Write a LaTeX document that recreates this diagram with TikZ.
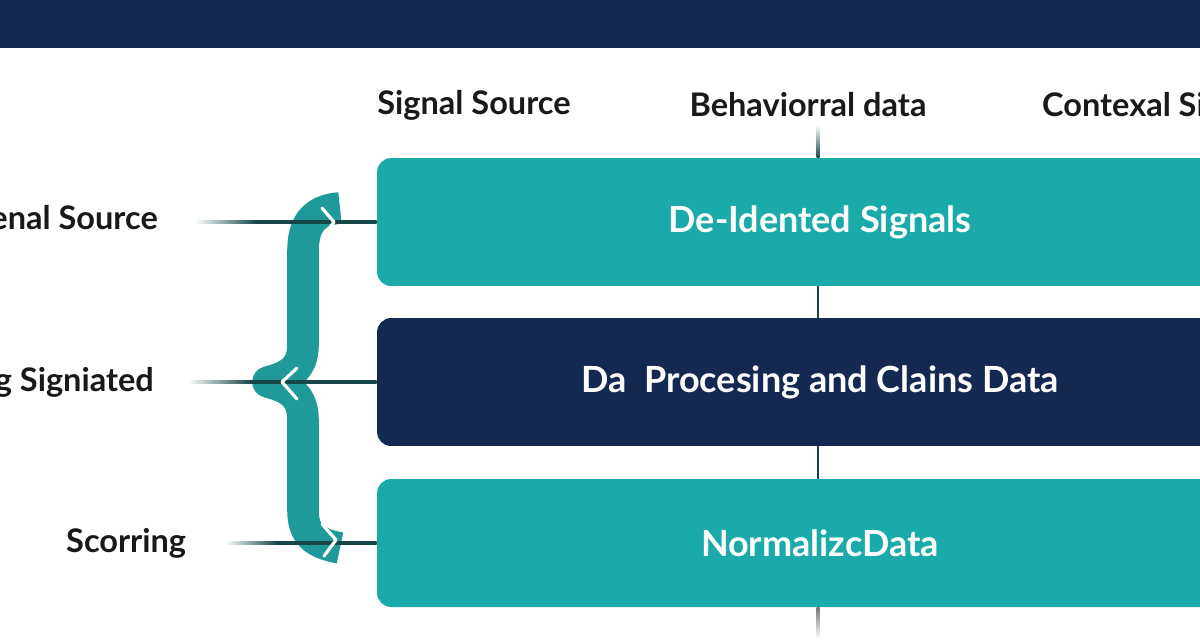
\documentclass[tikz,border=0pt]{standalone}
\usepackage{fontspec}
\setmainfont{Lato}
\usetikzlibrary{calc}
\definecolor{navy}{RGB}{19,41,82}
\definecolor{tealbox}{RGB}{27,170,170}
\definecolor{tealbrace}{RGB}{31,153,153}
\definecolor{linedark}{RGB}{22,70,72}
\definecolor{spinegray}{RGB}{120,120,120}
\pgfdeclarehorizontalshading{feedfade}{100bp}{color(0bp)=(white); color(25bp)=(white); color(42bp)=(linedark); color(100bp)=(linedark)}
\pgfdeclareverticalshading{topfade}{100bp}{color(0bp)=(linedark); color(25bp)=(linedark); color(75bp)=(white); color(100bp)=(white)}
\pgfdeclareverticalshading{bottomfade}{100bp}{color(0bp)=(white); color(25bp)=(white); color(75bp)=(spinegray); color(100bp)=(spinegray)}
\tikzset{
  panel/.style={minimum width=17.72cm,minimum height=2.56cm,rounded corners=8pt,
    text=white,font=\fontsize{20.5}{24}\selectfont\bfseries},
  header/.style={font=\fontsize{18.5}{22}\selectfont\bfseries,text=black!90},
  sidelabel/.style={font=\fontsize{18.5}{22}\selectfont\bfseries,text=black!90},
  chevron/.style={white,line width=1.8pt,line cap=round},
}
\begin{document}
\begin{tikzpicture}[x=0.02cm,y=-0.02cm,line join=round]
  \useasboundingbox (0,0) rectangle (1200,640);
  \clip (0,0) rectangle (1200,640);
  \fill[white] (0,0) rectangle (1200,640);
  \fill[navy] (0,0) rectangle (1200,48);

  % column headers
  \node[header] (hsource) at (474,105) {Signal Source};
  \node[header] (hbehav) at (808,105) {Behaviorral data};
  \node[header,anchor=west] (hcontext) at (1036,105) {Contexal Si};

  % stacked panels
  \node[panel,fill=tealbox] (signals) at (820,222) {De-Idented Signals};
  \node[panel,fill=navy] (process) at (820,382) {Da\ \ Procesing and Clains Data};
  \node[panel,fill=tealbox] (normal) at (820,543) {NormalizcData};

  % left labels
  \node[sidelabel,anchor=east] (lsource) at (164,218) {enal Source};
  \node[sidelabel,anchor=east] (lsign) at (160,382) {g Signiated};
  \node[sidelabel,anchor=west] (lscore) at (60,543) {Scorring};

  \coordinate (f1) at (195,222);
  \coordinate (f2) at (187,382);
  \coordinate (f3) at (225,543);
  \coordinate (spine) at (818,125);

  % spine through the panels
  \shade[shading=topfade] ($(spine)+(-1.5,0)$) rectangle ($(spine |- signals.north)+(1.5,0)$);
  \fill[linedark] ($(signals.south -| spine)+(-1.2,0)$) rectangle ($(process.north -| spine)+(1.2,0)$);
  \fill[linedark] ($(process.south -| spine)+(-1.2,0)$) rectangle ($(normal.north -| spine)+(1.2,0)$);
  \shade[shading=bottomfade] ($(normal.south -| spine)+(-1.5,0)$) rectangle ($(normal.south -| spine)+(1.5,32)$);

  % brace
  \draw[tealbrace,line width=18pt]
    (340,208) .. controls (312,210) and (303,226) .. (303,252)
    -- (303,345) .. controls (303,370) and (287,377) .. (268,382)
    .. controls (287,387) and (303,394) .. (303,420)
    -- (303,510) .. controls (303,534) and (314,543) .. (340,548);

  % feed lines into the panels
  \foreach \f/\b in {f1/signals,f2/process,f3/normal}
    \shade[shading=feedfade] ($(\f)+(0,-1.6)$) rectangle ($(\f -| \b.west)+(0,1.6)$);

  % chevrons on the brace
  \draw[chevron] (322,208) -- (334,222) -- (322,238);
  \draw[chevron] (297,368) -- (282,382) -- (297,399);
  \draw[chevron] (322,524) -- (336,540) -- (324,556);
\end{tikzpicture}
\end{document}
